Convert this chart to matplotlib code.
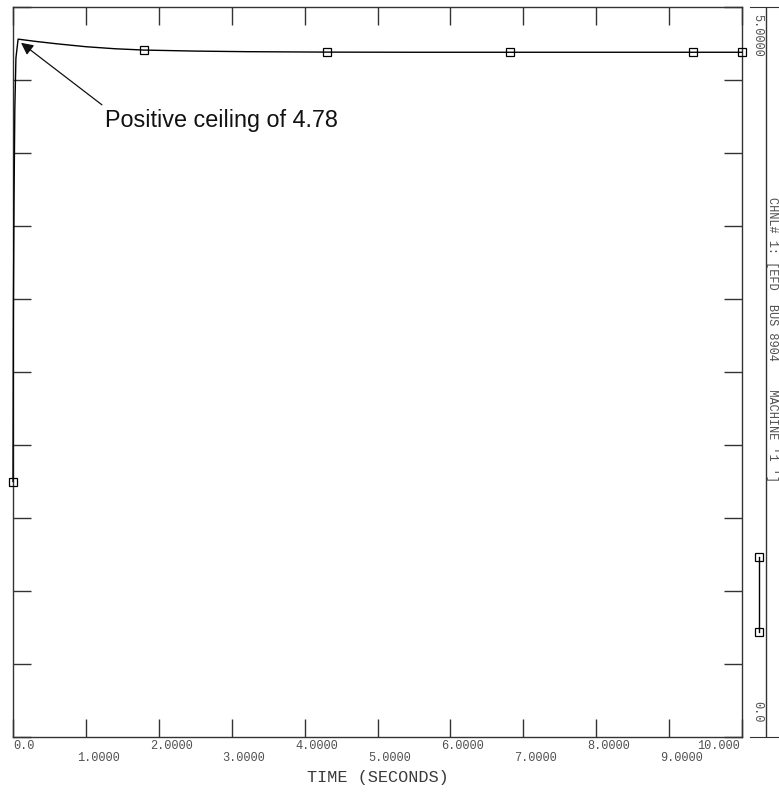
import numpy as np
import matplotlib.pyplot as plt
import matplotlib.transforms as mtransforms

# channel 1: EFD, bus 8904, machine '1'
time_s = [0.0, 0.005, 0.014, 0.025, 0.04, 0.07, 0.1, 0.3, 0.6, 1.0, 1.4, 1.8,
          2.5, 3.2, 4.31, 5.5, 6.82, 8.0, 9.33, 10.0]
efd = [1.75, 2.9, 3.68, 4.3, 4.65, 4.78, 4.778, 4.765, 4.748, 4.728, 4.714, 4.705,
       4.698, 4.694, 4.691, 4.69, 4.69, 4.69, 4.69, 4.69]
marker_idx = [0, 11, 14, 16, 18, 19]

x_ticks = [0, 1, 2, 3, 4, 5, 6, 7, 8, 9, 10]
x_labels = ["0.0", "1.0000", "2.0000", "3.0000", "4.0000", "5.0000",
            "6.0000", "7.0000", "8.0000", "9.0000", "10.000"]
y_ticks = np.arange(0, 5.01, 0.5)
y_min, y_max = 0.0, 5.0
channel_label = "CHNL# 1: [EFD  BUS 8904    MACHINE '1 ']"

MONO = "Liberation Mono"
GREY = "#333333"
TXT = "#505050"

W, H = 779, 793
fig = plt.figure(figsize=(W / 100, H / 100), dpi=100)
ax = fig.add_axes([13 / W, 1 - 737 / H, (742 - 13) / W, (737 - 7) / H])

ax.plot(time_s, efd, color="black", lw=1.0, marker="s", markersize=6,
        markerfacecolor="none", markeredgecolor="black", markeredgewidth=0.9,
        markevery=marker_idx, clip_on=False, zorder=3)

ax.set_xlim(0, 10)
ax.set_ylim(y_min, y_max)
ax.set_yticks(y_ticks)
ax.set_xticks(x_ticks)
ax.set_xticklabels(["" if i % 2 else lab for i, lab in enumerate(x_labels)])
ax.tick_params(which="both", direction="in", length=13, width=1.0, color=GREY,
               top=True, right=True, labelleft=False, pad=2)
ax.tick_params(axis="x", labelsize=8.6, labelcolor=TXT)
for s in ax.spines.values():
    s.set_color(GREY)
    s.set_linewidth(1.0)

# tick labels sit a little left of the tick, odd ones on a second row
for i, lab in enumerate(ax.get_xticklabels()):
    lab.set_fontfamily(MONO)
    if i == 0:
        lab.set_ha("left")
    elif i == len(x_ticks) - 1:
        lab.set_ha("right")
        lab.set_transform(lab.get_transform() +
                          mtransforms.ScaledTranslation(-2 / 100, 0, fig.dpi_scale_trans))
    else:
        lab.set_ha("left")
        lab.set_transform(lab.get_transform() +
                          mtransforms.ScaledTranslation(-9 / 100, 0, fig.dpi_scale_trans))
for i in range(1, len(x_ticks), 2):
    ax.annotate(x_labels[i], xy=(x_ticks[i], 0), xycoords=("data", "axes fraction"),
                xytext=(-9, -15), textcoords="offset pixels", ha="left", va="top",
                fontsize=8.6, family=MONO, color=TXT)

ax.set_xlabel("TIME (SECONDS)", family=MONO, fontsize=12.2, color="#3a3a3a", labelpad=13)

# ceiling annotation
ax.annotate("", xy=(0.11, 4.755), xytext=(1.22, 4.33),
            arrowprops=dict(arrowstyle="-|>", color="#111111", lw=0.9,
                            mutation_scale=18, shrinkA=0, shrinkB=0))
ax.text(1.262, 4.178, "Positive ceiling of 4.78", fontsize=16.8,
        family="Liberation Sans", color="#111111", va="baseline", ha="left")

# side strip with the range labels and the channel legend
side = fig.add_axes([750 / W, 1 - 737 / H, (W - 750) / W, (737 - 7) / H])
side.set_xlim(0, 29)
side.set_ylim(0, 1)
side.set_xticks([])
side.set_yticks([])
for k in ("left", "right"):
    side.spines[k].set_visible(False)
for k in ("top", "bottom"):
    side.spines[k].set_color(GREY)
side.axvline(16, color=GREY, lw=1.0)
side.text(7.5, 0.99, f"{y_max:.4f}", rotation=-90, ha="center", va="top",
          family=MONO, fontsize=8.6, color=TXT)
side.text(7.5, 0.02, f"{y_min:.1f}", rotation=-90, ha="center", va="bottom",
          family=MONO, fontsize=8.6, color=TXT)
side.text(22.5, 0.74, channel_label, rotation=-90, ha="center", va="top",
          family=MONO, fontsize=8.6, color=TXT)
side.plot([9, 9], [1 - (557 - 7) / 730, 1 - (632 - 7) / 730], color="black", lw=1.0,
          marker="s", markersize=6, markerfacecolor="none", markeredgewidth=0.9)

fig.savefig("out.png", dpi=100)
